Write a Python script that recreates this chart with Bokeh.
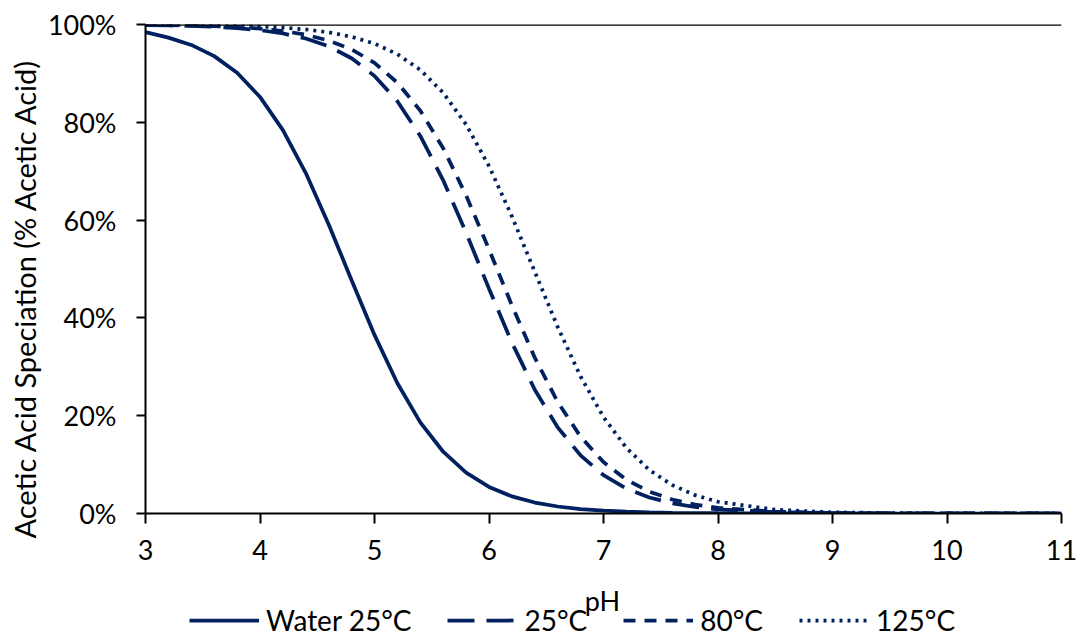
import numpy as np
from bokeh.plotting import figure
from bokeh.layouts import column
from bokeh.models import (Legend, LegendItem, Span, PrintfTickFormatter, FixedTicker,
                          Range1d, Title, Label)
from bokeh.embed import file_html
from bokeh.resources import INLINE

# pH values (x)
pH = [3.0, 3.2, 3.4, 3.6, 3.8, 4.0, 4.2, 4.4, 4.6, 4.8, 5.0, 5.2, 5.4, 5.6, 5.8,
      6.0, 6.2, 6.4, 6.6, 6.8, 7.0, 7.2, 7.4, 7.6, 7.8, 8.0, 8.5, 9.0, 9.5, 10.0, 11.0]

# % acetic acid
water_25 = [98.45, 97.32, 95.82, 93.53, 90.12, 85.19, 78.41, 69.61, 59.11, 47.70, 36.52,
            26.64, 18.64, 12.63, 8.36, 5.44, 3.50, 2.24, 1.43, 0.90, 0.57, 0.36, 0.23,
            0.14, 0.09, 0.06, 0.02, 0.01, 0.00, 0.00, 0.00]
t_25 = [99.88, 99.81, 99.71, 99.53, 99.26, 98.84, 98.17, 97.13, 95.53, 93.10, 89.49,
        84.30, 77.21, 68.14, 57.43, 45.98, 34.94, 25.31, 17.61, 11.89, 7.84, 5.10, 3.28,
        2.09, 1.33, 0.84, 0.27, 0.09, 0.03, 0.01, 0.00]
t_80 = [99.91, 99.87, 99.79, 99.66, 99.47, 99.16, 98.67, 97.91, 96.72, 94.90, 92.16,
        88.11, 82.39, 74.69, 65.06, 54.02, 42.57, 31.87, 22.79, 15.70, 10.51, 6.90, 4.47,
        2.87, 1.83, 1.16, 0.37, 0.12, 0.04, 0.01, 0.00]
t_125 = [99.96, 99.94, 99.90, 99.84, 99.74, 99.59, 99.36, 98.99, 98.40, 97.49, 96.09,
         93.93, 90.72, 86.04, 79.55, 71.05, 60.76, 49.42, 38.14, 28.01, 19.71, 13.41, 8.90,
         5.81, 3.75, 2.40, 0.77, 0.24, 0.08, 0.03, 0.00]

labels = ["Water 25°C", "25°C", "80°C", "125°C"]
x_ticks = [3, 4, 5, 6, 7, 8, 9, 10, 11]
y_ticks = [0, 20, 40, 60, 80, 100]
x_title = "pH"
y_title = "Acetic Acid Speciation (% Acetic Acid)"

NAVY = "#002060"
FONT = "Lato"
LW = 3.75
DASHES = ["solid", "27 12", "12 9", "3 5"]

# ---------------- main chart ----------------
p = figure(width=1083, height=580, output_backend="svg", toolbar_location=None,
           x_range=Range1d(3, 11), y_range=Range1d(0, 100),
           min_border_left=145, min_border_right=22, min_border_top=24,
           min_border_bottom=67)

p.xgrid.visible = False
p.ygrid.visible = False
p.outline_line_color = None

p.add_layout(Span(location=100, dimension="width", line_color="black", line_width=2.5))

series = [water_25, t_25, t_80, t_125]
for ys, dash in zip(series, DASHES):
    p.line(pH, ys, line_color=NAVY, line_width=LW, line_dash=dash)

for ax in (p.xaxis[0], p.yaxis[0]):
    ax.axis_line_color = "black"
    ax.axis_line_width = 2
    ax.major_tick_line_color = "black"
    ax.major_tick_line_width = 2
    ax.major_tick_in = 0
    ax.minor_tick_out = 0
    ax.minor_tick_in = 0
    ax.major_label_text_font = FONT
    ax.major_label_text_font_size = "27px"
    ax.major_label_text_color = "black"

p.xaxis.ticker = FixedTicker(ticks=x_ticks)
p.yaxis.ticker = FixedTicker(ticks=y_ticks)
p.yaxis.formatter = PrintfTickFormatter(format="%d%%")
p.xaxis.major_tick_out = 10
p.yaxis.major_tick_out = 9
p.xaxis.major_label_standoff = 16
p.yaxis.major_label_standoff = 20

p.add_layout(Title(text=y_title, align="left", offset=-25, text_font=FONT,
                   text_font_size="29px", text_font_style="normal",
                   text_color="black", standoff=6), "left")

# ---------------- legend strip (x title + legend) ----------------
# its frame is aligned with the main chart's frame (x 145..1061 on the page)
p2 = figure(width=1083, height=55, output_backend="svg", toolbar_location=None,
            x_range=Range1d(145, 1061), y_range=Range1d(0, 55),
            x_axis_location=None, y_axis_location=None,
            min_border_left=0, min_border_right=0, min_border_top=0, min_border_bottom=0)
p2.xgrid.visible = False
p2.ygrid.visible = False
p2.outline_line_color = None

items = []
for lab, dash in zip(labels, DASHES):
    r = p2.line(x=np.array([np.nan]), y=np.array([np.nan]), line_color=NAVY,
                line_width=LW, line_dash=dash)
    items.append(LegendItem(label=lab, renderers=[r]))

legend = Legend(
    items=items, orientation="horizontal", location=(44, -2),
    glyph_width=70, glyph_height=20, label_standoff=7, spacing=36,
    padding=0, margin=0, border_line_color=None, background_fill_alpha=0,
    label_text_font=FONT, label_text_font_size="28px", label_text_color="black",
)
p2.add_layout(legend)

p2.add_layout(Label(x=602, y=35, text=x_title, text_align="center", text_baseline="middle",
                    text_font=FONT, text_font_size="27px", text_color="black"))

with open("out.html", "w", encoding="utf-8") as f:
    f.write(file_html(column(p, p2, spacing=0), INLINE))
